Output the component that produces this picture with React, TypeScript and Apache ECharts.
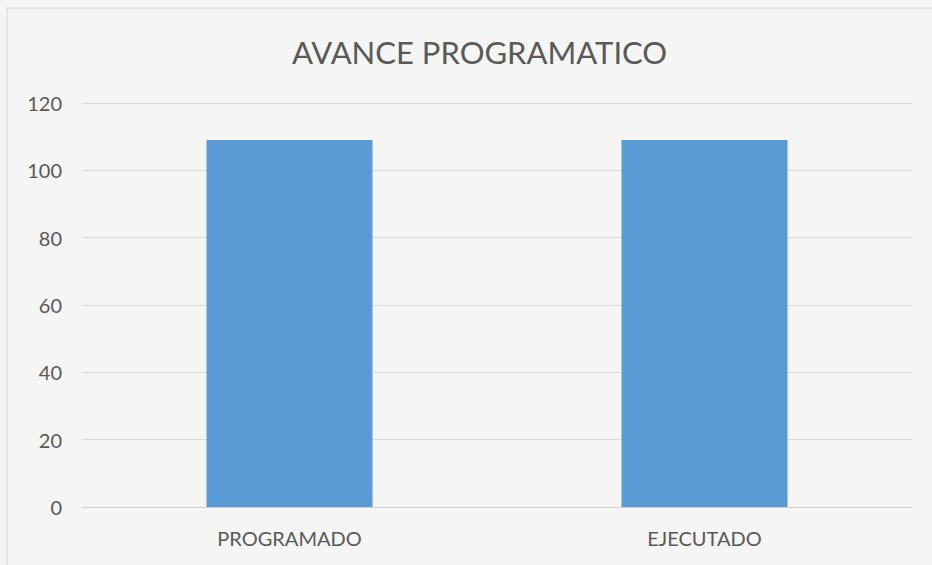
import React, { useEffect, useRef } from "react";
import * as echarts from "echarts";

const categories = ["PROGRAMADO", "EJECUTADO"];
const values = [109, 109];
const yTicks = [0, 20, 40, 60, 80, 100, 120];

export default function App() {
  const ref = useRef<HTMLDivElement>(null);
  useEffect(() => {
    if (!ref.current) return;
    const chart = echarts.init(ref.current, null, { renderer: "svg" });
    const font = "Lato, 'Open Sans', sans-serif";
    chart.setOption({
      animation: false,
      backgroundColor: "#f5f5f4",
      title: {
        text: "AVANCE PROGRAMATICO",
        left: 287,
        top: 31,
        textStyle: { color: "#595959", fontSize: 31, fontWeight: "normal", fontFamily: font },
      },
      graphic: [
        {
          type: "rect",
          shape: { x: 7, y: 8, width: 960, height: 600 },
          style: { fill: "none", stroke: "#d6d6d6", lineWidth: 1 },
          silent: true,
        },
      ],
      grid: { left: 82, right: 20, top: 103, bottom: 58, containLabel: false },
      xAxis: {
        type: "category",
        data: categories,
        axisLine: { show: true, lineStyle: { color: "#cfcfcf", width: 1 } },
        axisTick: { show: false },
        axisLabel: { color: "#595959", fontSize: 20, fontFamily: font, margin: 21 },
      },
      yAxis: {
        type: "value",
        min: yTicks[0],
        max: yTicks[yTicks.length - 1],
        interval: 20,
        axisLine: { show: false },
        axisTick: { show: false },
        axisLabel: { color: "#595959", fontSize: 20, fontFamily: font, margin: 20 },
        splitLine: { lineStyle: { color: "#d9d9d9", width: 1 } },
      },
      series: [
        {
          type: "bar",
          data: values,
          barWidth: "40%",
          itemStyle: { color: "#5b9bd5" },
        },
      ],
    });
    return () => chart.dispose();
  }, []);
  return (
    <div
      ref={ref}
      style={{ position: "fixed", left: 0, top: 0, width: 932, height: 565 }}
    />
  );
}
